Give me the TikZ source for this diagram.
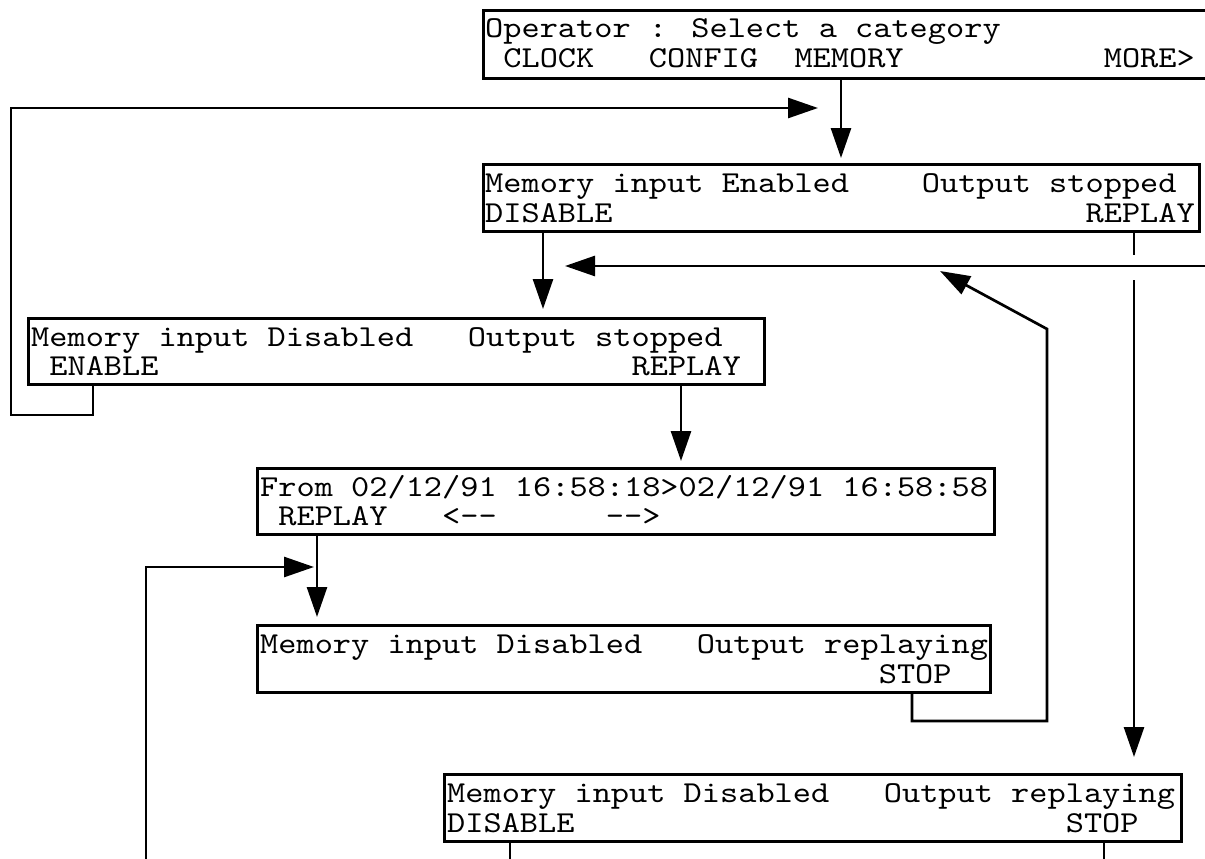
\documentclass[tikz,border=0pt]{standalone}
\usepackage{fontspec}
\newfontfamily\scrfont{lmmono10-regular.otf}[FakeStretch=1.14]
\usetikzlibrary{arrows.meta,calc}
\newcommand{\cellsp}[1]{\hspace*{#1\fontcharwd\font`M}}
\begin{document}
\begin{tikzpicture}[x=1pt,y=-1pt,
  screen/.style={draw, rectangle, anchor=north west, inner sep=0pt, line width=2.7pt},
  txt/.style={anchor=base west, inner sep=0pt, font=\fontsize{30.4}{30.4}\selectfont\scrfont},
  arr/.style={-{Triangle[length=30pt,width=20pt]}, line width=2.7pt},
  wire/.style={line width=2.7pt}]
\useasboundingbox (0,0) rectangle (1205,859);
\fill[white] (0,0) rectangle (1205,859);
\clip (0,0) rectangle (1205,859);

% screens
\node[screen, minimum width=733pt, minimum height=68pt] (b1) at (482,9) {};
\node[screen, minimum width=716pt, minimum height=67pt] (b2) at (482,163) {};
\node[screen, minimum width=736pt, minimum height=66pt] (b3) at (27,317) {};
\node[screen, minimum width=737pt, minimum height=66pt] (b4) at (256,467) {};
\node[screen, minimum width=733pt, minimum height=67pt] (b5) at (256,624) {};
\node[screen, minimum width=737pt, minimum height=67pt] (b6) at (443,773) {};

% texts
\node[txt] (b1a) at ($(b1.north west)+(3,29)$) {Operator : Select a category};
\node[txt] (b1b) at ($(b1.north west)+(3,59)$) {\cellsp{1}CLOCK\cellsp{3}CONFIG\cellsp{2}MEMORY\cellsp{11}MORE>};
\node[txt] (b2a) at ($(b2.north west)+(3,29)$) {Memory input Enabled\cellsp{4}Output stopped};
\node[txt] (b2b) at ($(b2.north west)+(3,59)$) {DISABLE\cellsp{26}REPLAY};
\node[txt] (b3a) at ($(b3.north west)+(4,29)$) {Memory input Disabled\cellsp{3}Output stopped};
\node[txt] (b3b) at ($(b3.north west)+(4,58)$) {\cellsp{1}ENABLE\cellsp{26}REPLAY};
\node[txt] (b4a) at ($(b4.north west)+(4,29)$) {From 02/12/91 16:58:18>02/12/91 16:58:58};
\node[txt] (b4b) at ($(b4.north west)+(4,58)$) {\cellsp{1}REPLAY\cellsp{3}<-\kern0pt-\cellsp{6}-\kern0pt->};
\node[txt] (b5a) at ($(b5.north west)+(4,29)$) {Memory input Disabled\cellsp{3}Output replaying};
\node[txt] (b5b) at ($(b5.north west)+(4,59)$) {\cellsp{34}STOP};
\node[txt] (b6a) at ($(b6.north west)+(4,29)$) {Memory input Disabled\cellsp{3}Output replaying};
\node[txt] (b6b) at ($(b6.north west)+(4,59)$) {DISABLE\cellsp{27}STOP};

% x positions of the keys
\coordinate (xmem) at (841,0);
\coordinate (xdis2) at (543,0);
\coordinate (xrp2) at (1134,0);
\coordinate (xen3) at (93,0);
\coordinate (xrp3) at (681,0);
\coordinate (xrp4) at (317,0);
\coordinate (xst5) at (912,0);
\coordinate (xdis6) at (510,0);
\coordinate (xst6) at (1104,0);

% loop points
\coordinate (la) at (11,415);
\coordinate (lb) at (11,108);
\coordinate (lc) at (818,108);
\coordinate (ra) at (1215,266);
\coordinate (rb) at (565,266);
\coordinate (ga) at (1134,255);
\coordinate (gb) at (1134,280);
\coordinate (sa) at (1047,721);
\coordinate (sb) at (1047,329);
\coordinate (sc) at (940,271);
\coordinate (ba) at (146,875);
\coordinate (bb) at (314,567);
\coordinate (da) at (510,875);
\coordinate (db) at (1104,875);

% connectors
\draw[arr] (b1.south -| xmem) -- ($(b2.north -| xmem)+(0,-5)$);
\draw[arr] (b3.south -| xen3) |- (la) -- (lb) -- (lc);
\draw[arr] (b2.south -| xdis2) -- ($(b3.north -| xdis2)+(0,-8)$);
\draw[arr] (ra) -- (rb);
\draw[wire] (b2.south -| xrp2) -- (ga);
\draw[arr] (gb) -- ($(b6.north -| xrp2)+(0,-16)$);
\draw[arr] (b5.south -| xst5) |- (sa) -- (sb) -- (sc);
\draw[arr] (b3.south -| xrp3) -- ($(b4.north -| xrp3)+(0,-6)$);
\draw[arr] (b4.south -| xrp4) -- ($(b5.north -| xrp4)+(0,-7)$);
\draw[arr] (ba) |- (bb);
\draw[wire] (b6.south -| xdis6) -- (da);
\draw[wire] (b6.south -| xst6) -- (db);
\end{tikzpicture}
\end{document}
